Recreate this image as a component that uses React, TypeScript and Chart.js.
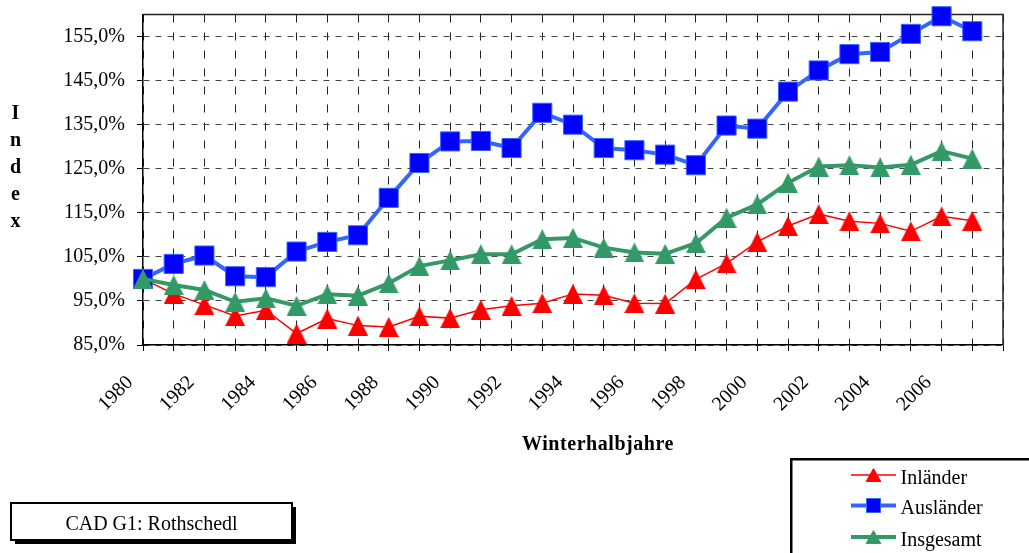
import React, { useEffect, useRef } from 'react';
import { Chart, registerables } from 'chart.js';

Chart.register(...registerables);

const years = [
  '1980', '1981', '1982', '1983', '1984', '1985', '1986', '1987', '1988', '1989',
  '1990', '1991', '1992', '1993', '1994', '1995', '1996', '1997', '1998', '1999',
  '2000', '2001', '2002', '2003', '2004', '2005', '2006', '2007', '2008',
];
const xTickLabels = [
  '1980', '', '1982', '', '1984', '', '1986', '', '1988', '',
  '1990', '', '1992', '', '1994', '', '1996', '', '1998', '',
  '2000', '', '2002', '', '2004', '', '2006', '', '',
];
const inlaender = [
  100, 96.6, 94.1, 91.6, 92.9, 87.6, 91.0, 89.4, 89.1, 91.5,
  91.1, 93.0, 93.9, 94.5, 96.6, 96.3, 94.5, 94.4, 99.9, 103.5,
  108.4, 112.0, 114.7, 113.1, 112.6, 110.8, 114.2, 113.2,
];
const auslaender = [
  100, 103.4, 105.3, 100.6, 100.4, 106.2, 108.4, 109.9, 118.4, 126.3,
  131.2, 131.3, 129.7, 137.7, 135.0, 129.7, 129.2, 128.2, 125.8, 134.8,
  134.1, 142.5, 147.3, 151.0, 151.5, 155.6, 159.6, 156.2,
];
const insgesamt = [
  100, 98.6, 97.5, 94.8, 95.6, 93.9, 96.5, 96.2, 99.0, 102.9,
  104.2, 105.6, 105.6, 109.0, 109.3, 107.1, 106.0, 105.7, 108.1, 113.9,
  116.9, 121.8, 125.5, 125.8, 125.3, 125.9, 129.0, 127.3,
];
const yTickValues = [85, 95, 105, 115, 125, 135, 145, 155];
const yMin = 85;
const yMax = 160;
const seriesNames = ['Inländer', 'Ausländer', 'Insgesamt'];
const markerStyles = ['triangle', 'rect', 'triangle'];
const yTitle = 'Index';
const xTitle = 'Winterhalbjahre';
const sourceNote = 'CAD G1: Rothschedl';

const FONT = '"Liberation Serif", "Times New Roman", Times, serif';

function makeTriangle(color: string, w: number, h: number) {
  const c = document.createElement('canvas');
  c.width = w;
  c.height = h;
  const g = c.getContext('2d')!;
  g.fillStyle = color;
  g.beginPath();
  g.moveTo(w / 2, 0);
  g.lineTo(w, h);
  g.lineTo(0, h);
  g.closePath();
  g.fill();
  return c;
}

function drawMarker(ctx: CanvasRenderingContext2D, style: string, x: number, y: number, fill: string, stroke: string) {
  ctx.save();
  ctx.fillStyle = fill;
  ctx.strokeStyle = stroke;
  ctx.lineWidth = 1;
  ctx.beginPath();
  if (style === 'rect') {
    ctx.rect(x - 7, y - 7, 14, 14);
  } else {
    ctx.moveTo(x, y - 6.4);
    ctx.lineTo(x + 7.3, y + 6.4);
    ctx.lineTo(x - 7.3, y + 6.4);
    ctx.closePath();
  }
  ctx.fill();
  ctx.stroke();
  ctx.restore();
}

const decorPlugin = {
  id: 'decor',
  beforeDatasetsDraw(chart: any) {
    const { ctx, chartArea: a } = chart;
    ctx.save();
    ctx.strokeStyle = '#222';
    ctx.lineWidth = 1.5;
    ctx.beginPath();
    ctx.moveTo(a.left, a.top);
    ctx.lineTo(a.right, a.top);
    ctx.lineTo(a.right, a.bottom);
    ctx.stroke();
    ctx.restore();
  },
  afterDraw(chart: any) {
    const ctx: CanvasRenderingContext2D = chart.ctx;
    ctx.save();
    ctx.fillStyle = '#000';
    ctx.font = `bold 20px ${FONT}`;
    ctx.textAlign = 'center';
    ctx.textBaseline = 'alphabetic';
    yTitle.split('').forEach((ch, i) => ctx.fillText(ch, 15.5, 119.3 + i * 26.85));
    (ctx as any).letterSpacing = '0.55px';
    ctx.fillText(xTitle, 598, 450);
    (ctx as any).letterSpacing = '0px';

    // legend box
    ctx.strokeStyle = '#000';
    ctx.lineWidth = 2.5;
    ctx.strokeRect(791.25, 459.25, 400, 200);
    const rowY = [475, 505.5, 537];
    chart.data.datasets.forEach((ds: any, i: number) => {
      const y = rowY[i];
      ctx.save();
      ctx.strokeStyle = ds.borderColor;
      ctx.lineWidth = ds.borderWidth;
      ctx.beginPath();
      ctx.moveTo(851, y);
      ctx.lineTo(896, y);
      ctx.stroke();
      ctx.restore();
      drawMarker(ctx, markerStyles[i], 873.5, y, ds.pointBackgroundColor, ds.pointBorderColor);
      ctx.font = `20px ${FONT}`;
      ctx.textAlign = 'left';
      ctx.fillStyle = '#000';
      ctx.fillText(ds.label, 900.5, y + 8.5);
    });

    // source note box
    ctx.fillStyle = '#000';
    ctx.fillRect(15, 507, 281, 37);
    ctx.fillStyle = '#fff';
    ctx.fillRect(11, 503, 281, 37);
    ctx.strokeStyle = '#000';
    ctx.lineWidth = 2;
    ctx.strokeRect(11, 503, 281, 37);
    ctx.fillStyle = '#000';
    ctx.font = `20px ${FONT}`;
    ctx.textAlign = 'center';
    ctx.fillText(sourceNote, 151.5, 530);
    ctx.restore();
  },
};

function zeroPadding(s: any) {
  s.paddingTop = 0;
  s.paddingBottom = 0;
  s.paddingLeft = 0;
  s.paddingRight = 0;
}

export default function App() {
  const ref = useRef<HTMLCanvasElement>(null);
  useEffect(() => {
    if (!ref.current) return;
    Chart.defaults.font.family = FONT;
    Chart.defaults.font.size = 20;
    Chart.defaults.color = '#000';
    const redTri = makeTriangle('#ff0000', 20, 20);
    const greenTri = makeTriangle('#339966', 20, 20);
    const chart = new Chart(ref.current, {
      type: 'line',
      data: {
        labels: years,
        datasets: [
          {
            label: seriesNames[0],
            data: inlaender,
            borderColor: '#ff0000',
            backgroundColor: '#ff0000',
            borderWidth: 1.5,
            pointStyle: redTri,
            pointRadius: 10,
            pointBackgroundColor: '#ff0000',
            pointBorderColor: '#ff0000',
            pointBorderWidth: 1,
            order: 3,
            clip: false,
          },
          {
            label: seriesNames[1],
            data: auslaender,
            borderColor: '#3366ff',
            backgroundColor: '#0000ff',
            borderWidth: 4,
            pointStyle: 'rect',
            pointRadius: 13.5,
            pointBackgroundColor: '#0000ff',
            pointBorderColor: '#3366ff',
            pointBorderWidth: 1,
            order: 2,
            clip: false,
          },
          {
            label: seriesNames[2],
            data: insgesamt,
            borderColor: '#339966',
            backgroundColor: '#339966',
            borderWidth: 4,
            pointStyle: greenTri,
            pointRadius: 10,
            pointBackgroundColor: '#339966',
            pointBorderColor: '#339966',
            pointBorderWidth: 1,
            order: 1,
            clip: false,
          },
        ] as any,
      },
      options: {
        responsive: true,
        maintainAspectRatio: false,
        animation: false,
        events: [],
        layout: { padding: { top: 12, right: 26, left: 0, bottom: 0 } },
        plugins: {
          legend: { display: false },
          tooltip: { enabled: false },
          title: { display: false },
        },
        scales: {
          x: {
            type: 'category',
            offset: false,
            grid: {
              color: '#222',
              lineWidth: 1,
              tickLength: 6,
              tickColor: '#000',
              tickBorderDash: [],
              drawTicks: true,
            },
            border: { display: true, color: '#000', width: 1.5, dash: [8, 10] },
            ticks: {
              autoSkip: false,
              maxRotation: 45,
              minRotation: 45,
              padding: 20,
              labelOffset: -13,
              color: '#000',
              font: { size: 20, family: FONT },
              callback: (_v: any, i: number) => xTickLabels[i],
            },
            afterFit: (s: any) => {
              s.height = 208;
              zeroPadding(s);
            },
          },
          y: {
            type: 'linear',
            min: yMin,
            max: yMax,
            afterBuildTicks: (s: any) => {
              s.ticks = yTickValues.map((v) => ({ value: v }));
            },
            afterFit: (s: any) => {
              s.width = 143;
              zeroPadding(s);
            },
            grid: {
              color: '#444',
              lineWidth: 1,
              tickLength: 6,
              tickColor: '#000',
              tickBorderDash: [],
              drawTicks: true,
            },
            border: { display: true, color: '#000', width: 1.5, dash: [6, 6] },
            ticks: {
              padding: 12,
              color: '#000',
              font: { size: 20, family: FONT },
              callback: (v: any) => Number(v).toFixed(1).replace('.', ',') + '%',
            },
          },
        },
      } as any,
      plugins: [decorPlugin],
    });
    return () => chart.destroy();
  }, []);
  return (
    <div style={{ position: 'absolute', left: 0, top: 0, width: 1029, height: 553 }}>
      <canvas ref={ref} />
    </div>
  );
}
